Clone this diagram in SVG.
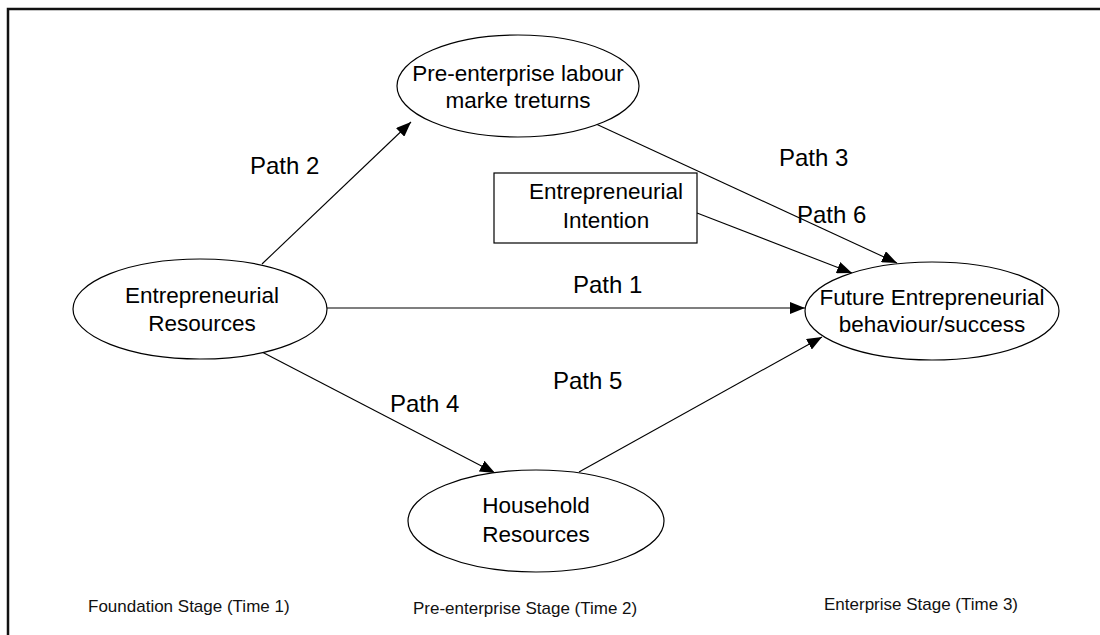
<svg xmlns="http://www.w3.org/2000/svg" width="1100" height="635" viewBox="0 0 1100 635">
  <style>
    .node { fill: #fff; stroke: #000; stroke-width: 1.2; }
    .ntext { font-family: "Liberation Sans", Arial, sans-serif; font-size: 22.5px; fill: #000; text-anchor: middle; }
    .plabel { font-family: "Liberation Sans", Arial, sans-serif; font-size: 24px; fill: #000; }
    .stage { font-family: "Liberation Sans", Arial, sans-serif; font-size: 17px; fill: #111; }
    .edge { stroke: #000; stroke-width: 1.1; fill: none; marker-end: url(#arrow); }
  </style>
  <defs>
    <marker id="arrow" markerUnits="userSpaceOnUse" markerWidth="16" markerHeight="12" refX="15" refY="6" orient="auto">
      <path d="M0,0 L15,6 L0,12 Z" fill="#000"/>
    </marker>
  </defs>

  <rect width="1100" height="635" fill="#fff"/>
  <!-- frame -->
  <path d="M8,640 V9 H1105" fill="none" stroke="#111" stroke-width="2.5"/>

  <!-- connectors -->
  <g id="connectors">
    <line class="edge" x1="327" y1="308" x2="805" y2="308"/>
    <line class="edge" x1="262" y1="264" x2="411" y2="122"/>
    <line class="edge" x1="596" y1="124" x2="897" y2="263"/>
    <line class="edge" x1="697" y1="213" x2="852" y2="273"/>
    <line class="edge" x1="262" y1="352" x2="495" y2="473"/>
    <line class="edge" x1="579" y1="472" x2="822" y2="337"/>
  </g>

  <!-- path labels -->
  <g id="labels">
    <text class="plabel" x="250" y="174">Path 2</text>
    <text class="plabel" x="779" y="166">Path 3</text>
    <text class="plabel" x="797" y="223">Path 6</text>
    <text class="plabel" x="573" y="293">Path 1</text>
    <text class="plabel" x="390" y="412">Path 4</text>
    <text class="plabel" x="553" y="389">Path 5</text>
  </g>

  <g id="pre-enterprise-returns">
    <ellipse class="node" cx="518" cy="86" rx="121" ry="51"/>
    <text class="ntext" x="518" y="81">Pre-enterprise labour</text>
    <text class="ntext" x="518" y="108">marke treturns</text>
  </g>

  <g id="entrepreneurial-intention">
    <rect class="node" x="494" y="173" width="203" height="70"/>
    <text class="ntext" x="606" y="199">Entrepreneurial</text>
    <text class="ntext" x="606" y="228">Intention</text>
  </g>

  <g id="entrepreneurial-resources">
    <ellipse class="node" cx="200" cy="309" rx="127" ry="50"/>
    <text class="ntext" x="202" y="303">Entrepreneurial</text>
    <text class="ntext" x="202" y="331">Resources</text>
  </g>

  <g id="future-behaviour">
    <ellipse class="node" cx="932" cy="311" rx="127" ry="49"/>
    <text class="ntext" x="932" y="305">Future Entrepreneurial</text>
    <text class="ntext" x="932" y="332">behaviour/success</text>
  </g>

  <g id="household-resources">
    <ellipse class="node" cx="536" cy="521" rx="128" ry="51"/>
    <text class="ntext" x="536" y="513">Household</text>
    <text class="ntext" x="536" y="542">Resources</text>
  </g>

  <!-- stage captions -->
  <g id="stages">
    <text class="stage" x="88" y="612">Foundation Stage (Time 1)</text>
    <text class="stage" x="413" y="614">Pre-enterprise Stage (Time 2)</text>
    <text class="stage" x="824" y="610">Enterprise Stage (Time 3)</text>
  </g>
</svg>
